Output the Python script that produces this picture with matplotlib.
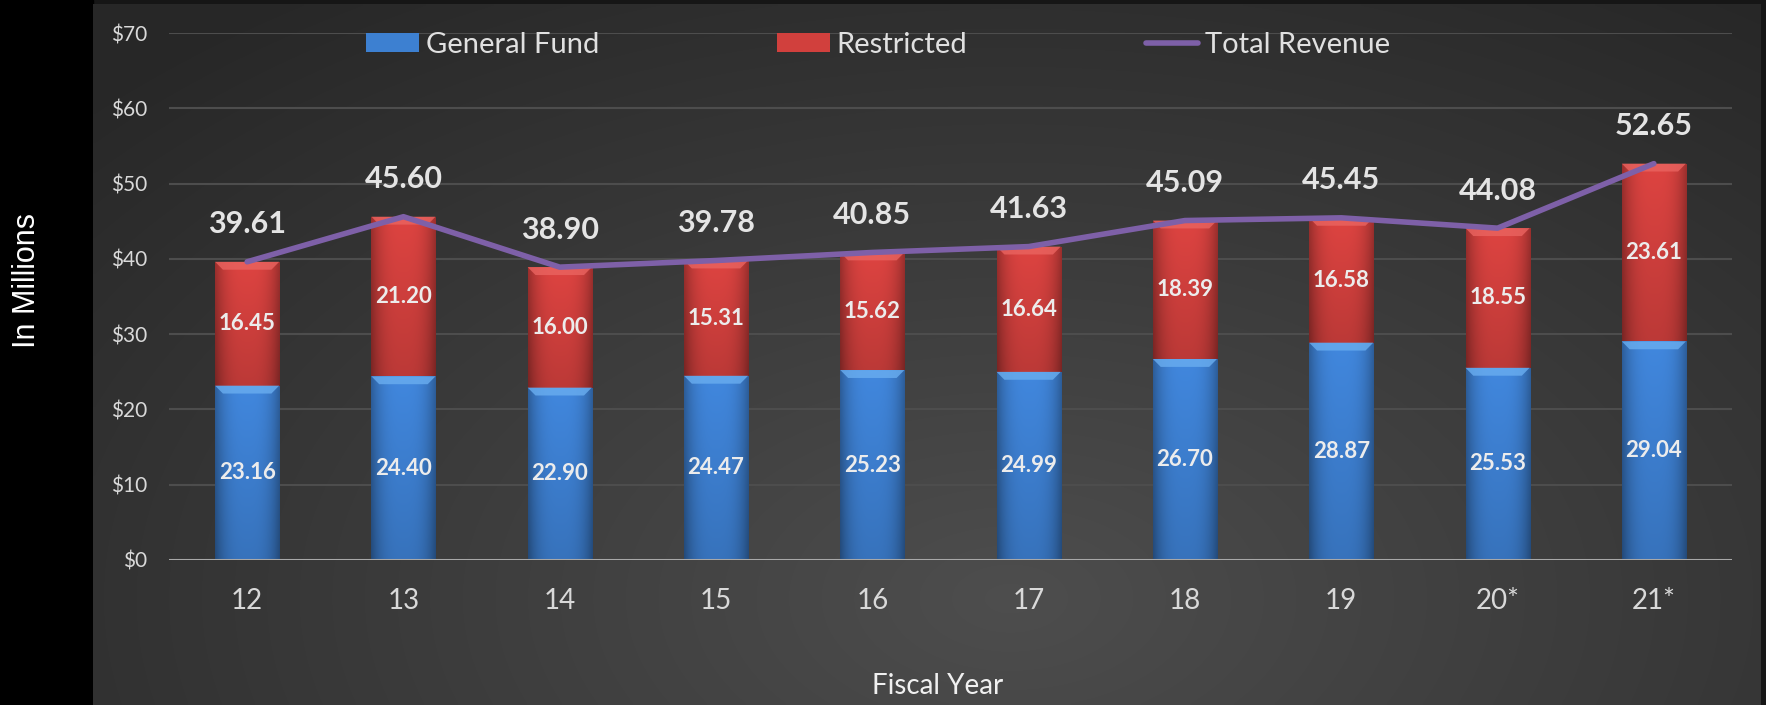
import numpy as np
import matplotlib
matplotlib.use('Agg')
import matplotlib.pyplot as plt
from matplotlib.patches import Polygon, Rectangle
from matplotlib.ticker import FuncFormatter

# ── Data ──────────────────────────────────────────────────────────────────────
years = ['12', '13', '14', '15', '16', '17', '18', '19', '20*', '21*']
general_fund = [23.16, 24.40, 22.90, 24.47, 25.23, 24.99, 26.70, 28.87, 25.53, 29.04]
restricted = [16.45, 21.20, 16.00, 15.31, 15.62, 16.64, 18.39, 16.58, 18.55, 23.61]
total_revenue = [39.61, 45.60, 38.90, 39.78, 40.85, 41.63, 45.09, 45.45, 44.08, 52.65]

W, H = 1766, 705
FONT = 'Lato'
TXT = '#d9d9d9'
BLUE = (0.24, 0.50, 0.82)
RED = (0.82, 0.25, 0.24)
BLUE_TOP = '#6aaef0'
RED_TOP = '#ea6460'
PURPLE = '#7e60a8'

fig = plt.figure(figsize=(W / 100, H / 100), dpi=100, facecolor='#161616')
fig.add_artist(Rectangle((0, 0), 93 / W, 1, transform=fig.transFigure,
                         color='black', zorder=-5))

# ── Background panel with soft radial light ─────────────────────────────────
bg = fig.add_axes([93 / W, 0, (1761 - 93) / W, 1 - 4 / H], zorder=-2)
gx, gy = np.meshgrid(np.linspace(0, 1, 400), np.linspace(0, 1, 200))
d = np.sqrt(((gx - 0.55) / 0.75) ** 2 + ((gy - 0.15) / 1.05) ** 2)
v = np.clip(1 - d, 0, 1)
gray = 0.155 + 0.15 * v
bg.imshow(np.dstack([gray, gray, gray]), extent=(0, 1, 0, 1), origin='lower',
          aspect='auto', interpolation='bilinear')
bg.axis('off')

# ── Main axes ────────────────────────────────────────────────────────────────
ax = fig.add_axes([169 / W, 1 - 560 / H, (1732 - 169) / W, (560 - 33) / H])
ax.set_facecolor('none')
x = np.arange(len(years))
width = 0.41

b1 = ax.bar(x, general_fund, width, color=BLUE, zorder=3, label='General Fund')
b2 = ax.bar(x, restricted, width, bottom=general_fund, color=RED, zorder=3,
            label='Restricted')


def shade(patch, base, top_color):
    # horizontal cylinder-like shading plus a light bevel on top
    x0, y0 = patch.get_x(), patch.get_y()
    w, h = patch.get_width(), patch.get_height()
    cols = np.linspace(-1, 1, 80)[None, :]
    rows = np.linspace(0, 1, 60)[:, None]
    f = 1.06 - 0.32 * np.abs(cols) ** 3 - 0.16 * (1 - rows)
    img = np.clip(np.array(base)[None, None, :] * f[..., None], 0, 1)
    im = ax.imshow(img, extent=(x0, x0 + w, y0, y0 + h), origin='lower',
                   aspect='auto', zorder=3.1, interpolation='bilinear')
    im.set_clip_path(patch)
    dy, dx = 1.05, 0.05
    y1 = y0 + h
    ax.add_patch(Polygon([(x0, y1), (x0 + w, y1), (x0 + w - dx, y1 - dy),
                          (x0 + dx, y1 - dy)], closed=True,
                         facecolor=top_color, edgecolor='none', alpha=0.8,
                         zorder=3.2))


for p in b1:
    shade(p, BLUE, BLUE_TOP)
for p in b2:
    shade(p, RED, RED_TOP)

ax.plot(x, total_revenue, color=PURPLE, lw=4, solid_capstyle='round',
        solid_joinstyle='round', zorder=5, label='Total Revenue')

# labels
for i in range(len(years)):
    ax.text(x[i], general_fund[i] / 2, f'{general_fund[i]:.2f}', ha='center',
            va='center', color='#ececec', fontsize=16, fontweight='bold',
            family=FONT, zorder=6)
    ax.text(x[i], general_fund[i] + restricted[i] / 2, f'{restricted[i]:.2f}',
            ha='center', va='center', color='#ececec', fontsize=16,
            fontweight='bold', family=FONT, zorder=6)
    ax.annotate(f'{total_revenue[i]:.2f}', (x[i], total_revenue[i]),
                xytext=(0, 27), textcoords='offset points', ha='center',
                va='center', color='#e4e4e4', fontsize=22, fontweight='bold',
                family=FONT, zorder=6)

ax.set_xlim(-0.5, 9.5)
ax.set_ylim(0, 70)
ax.set_yticks(np.arange(0, 71, 10))
ax.yaxis.set_major_formatter(FuncFormatter(lambda v, _: f'${v:.0f}'))
ax.set_xticks(x)
ax.set_xticklabels(years)
ax.grid(axis='y', color='#4d4d4d', lw=1.5, zorder=0)
ax.axhline(0, color='#a8a8a8', lw=2.2, zorder=4)
for s in ax.spines.values():
    s.set_visible(False)
ax.tick_params(axis='y', length=0, pad=16, labelsize=15, labelcolor=TXT)
ax.tick_params(axis='x', length=0, pad=20, labelsize=20, labelcolor=TXT)
for lab in ax.get_xticklabels() + ax.get_yticklabels():
    lab.set_family(FONT)

fig.text(938 / W, 1 - 686 / H, 'Fiscal Year', ha='center', va='center',
         color='#f0f0f0', fontsize=20, family=FONT)
fig.text(27 / W, 1 - 281 / H, 'In Millions', ha='center', va='center',
         rotation=90, color='white', fontsize=22, family='Liberation Sans')

fig.legend(handles=[b1, b2, ax.lines[0]], labels=['General Fund', 'Restricted', 'Total Revenue'],
           loc='center left', bbox_to_anchor=(366 / W, 1 - 45 / H), ncol=3,
           frameon=False, borderpad=0, borderaxespad=0, handlelength=1.8,
           handleheight=0.62, handletextpad=0.25, columnspacing=6.1,
           prop={'family': FONT, 'size': 21}, labelcolor='#e0e0e0')

fig.savefig('out.png', dpi=100, facecolor=fig.get_facecolor())
